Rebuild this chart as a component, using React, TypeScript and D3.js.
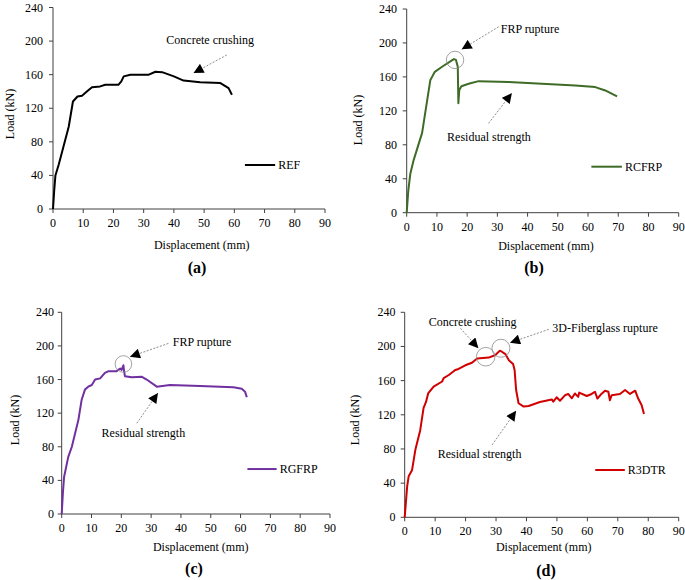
import React from 'react';
import * as d3 from 'd3';

const xTicks = [0, 10, 20, 30, 40, 50, 60, 70, 80, 90];
const yTicks = [0, 40, 80, 120, 160, 200, 240];

const refData: [number, number][] = [
  [0, 0], [0.4, 22], [0.8, 40], [1.9, 53], [3.3, 72], [5.2, 98], [6.6, 128], [8.1, 134], [9.6, 135],
  [11.2, 140], [12.9, 145], [15.6, 146], [17.3, 148], [21.7, 148], [22.6, 152], [23.4, 158], [25.6, 160],
  [31.7, 160], [33.9, 163.5], [36.1, 163], [40, 158], [43.2, 153], [48.7, 151], [55.4, 150], [58.1, 144], [59.2, 136],
];
const rcfrpData: [number, number][] = [
  [0, 0], [0.5, 25], [1.2, 46], [2.3, 62], [5.1, 94], [7.8, 156], [8.4, 160], [9.3, 166], [11.7, 172],
  [15.6, 181], [16.3, 180], [16.9, 172], [17.1, 129], [17.4, 144.5], [18.1, 149], [20.5, 152], [23.8, 155],
  [33.7, 154], [55.8, 150], [62.4, 148], [65.7, 144], [69.6, 137],
];
const rgfrpData: [number, number][] = [
  [0, 0], [0.4, 25], [0.8, 44], [2.2, 68], [3.4, 80], [5.6, 112], [6.7, 136], [7.8, 148], [8.9, 151.5],
  [10.1, 153.5], [11.2, 160], [12.9, 161.4], [14.5, 168], [15.7, 170], [18.4, 170], [19.6, 173], [20.1, 171.5],
  [20.7, 177], [20.9, 171], [21.2, 164], [23.5, 162.6], [26.8, 163.4], [28.5, 160], [31.9, 151.5], [36.3, 153.5],
  [46.4, 152.3], [57.6, 150.7], [60.4, 149], [61.5, 145.6], [62.1, 139],
];
const r3dtrData: [number, number][] = [
  [0, 0], [0.8, 36], [1.3, 48], [2.4, 55], [3.5, 79], [5.1, 102], [6.2, 128], [7.0, 135], [7.7, 145],
  [9.5, 153], [12.3, 159], [12.8, 163], [14.5, 166.6], [16.6, 172.5], [17.7, 173.7], [19.9, 178], [22.1, 181],
  [23.8, 186], [27.6, 187], [29.8, 190], [30.9, 194], [31.4, 195], [33.1, 191], [34.2, 184], [35.6, 179.5],
  [36.1, 172.5], [36.6, 149], [37.4, 133.5], [39.1, 129.6], [40.7, 130.3], [44.4, 135], [48.3, 138],
  [48.8, 135.4], [49.9, 140.5], [51, 136.5], [52.7, 143], [53.7, 144.4], [54.9, 139.3], [55.9, 145], [57, 141],
  [57.3, 146], [59.8, 142], [61.4, 144.4], [62.5, 147], [63.3, 139], [64.6, 144.4], [65.8, 148.2], [66.9, 147],
  [67.4, 137], [68, 143], [70.7, 144.4], [72.4, 149], [74, 144.4], [75.7, 148.2], [76.7, 139], [77.8, 131.5], [78.6, 121],
];

type Geom = {
  x0: number; x1: number; y0: number; y1: number;
  xl: [number, number]; tag: [number, number]; yl: [number, number];
  ytr: number;
};
type Arrow = { from: [number, number]; to: [number, number] };
type Label = { text: string; at: [number, number] };
type Circle = { at: [number, number]; r: number };

const FONT = "'Liberation Serif', 'Times New Roman', serif";

function Panel(props: {
  g: Geom; data: [number, number][]; color: string; name: string; legend: [number, number, number];
  labels: Label[]; arrows: Arrow[]; circles: Circle[]; tag: string;
}) {
  const { g, data, color, name, legend, labels, arrows, circles, tag } = props;
  const x = d3.scaleLinear().domain([0, 90]).range([g.x0, g.x1]);
  const y = d3.scaleLinear().domain([0, 240]).range([g.y0, g.y1]);
  const line = d3.line<[number, number]>().x(d => x(d[0])).y(d => y(d[1]));
  const axisColor = '#404040';
  return (
    <g>
      <line x1={g.x0} x2={g.x1} y1={g.y0} y2={g.y0} stroke={axisColor} strokeWidth={1} />
      <line x1={g.x0} x2={g.x0} y1={g.y0} y2={g.y1} stroke={axisColor} strokeWidth={1} />
      {xTicks.map(t => (
        <g key={'x' + t}>
          <line x1={x(t)} x2={x(t)} y1={g.y0} y2={g.y0 + 4} stroke={axisColor} />
          <text x={x(t)} y={g.y0 + 14} textAnchor="middle" dominantBaseline="central" fontSize={12} fontFamily={FONT}>{t}</text>
        </g>
      ))}
      {yTicks.map(t => (
        <g key={'y' + t}>
          <line x1={g.x0 - 4} x2={g.x0} y1={y(t)} y2={y(t)} stroke={axisColor} />
          <text x={g.ytr} y={y(t)} textAnchor="end" dominantBaseline="central" fontSize={12} fontFamily={FONT}>{t}</text>
        </g>
      ))}
      <text x={g.xl[0]} y={g.xl[1]} textAnchor="middle" dominantBaseline="central" fontSize={12} fontFamily={FONT}>Displacement (mm)</text>
      <text transform={`translate(${g.yl[0]},${g.yl[1]}) rotate(-90)`} textAnchor="middle" dominantBaseline="central" fontSize={12} fontFamily={FONT}>Load (kN)</text>
      <text x={g.tag[0]} y={g.tag[1]} textAnchor="middle" dominantBaseline="central" fontSize={16} fontWeight="bold" fontFamily={FONT}>{tag}</text>
      <path d={line(data) || ''} fill="none" stroke={color} strokeWidth={2} strokeLinejoin="round" />
      <line x1={x(legend[0])} x2={x(legend[1])} y1={y(legend[2])} y2={y(legend[2])} stroke={color} strokeWidth={2} />
      <text x={x(legend[1]) + 3} y={y(legend[2])} dominantBaseline="central" fontSize={12} fontFamily={FONT}>{name}</text>
      {circles.map((c, i) => (
        <circle key={'c' + i} cx={x(c.at[0])} cy={y(c.at[1])} r={c.r} fill="none" stroke="#8a8a8a" strokeWidth={0.8} />
      ))}
      {arrows.map((a, i) => (
        <line key={'a' + i} x1={x(a.from[0])} y1={y(a.from[1])} x2={x(a.to[0])} y2={y(a.to[1])}
          stroke="#707070" strokeWidth={0.8} strokeDasharray="2,1.5" markerEnd="url(#arrowhead)" />
      ))}
      {labels.map((l, i) => (
        <text key={'l' + i} x={x(l.at[0])} y={y(l.at[1])} textAnchor="middle" dominantBaseline="central" fontSize={12} fontFamily={FONT}>{l.text}</text>
      ))}
    </g>
  );
}

export default function App() {
  return (
    <svg width={685} height={580} style={{ position: 'absolute', left: 0, top: 0, background: '#fff' }}>
      <defs>
        <marker id="arrowhead" viewBox="0 0 10 10" refX={10} refY={5} markerWidth={11} markerHeight={10}
          markerUnits="userSpaceOnUse" orient="auto">
          <path d="M0,0 L10,5 L0,10 z" fill="#000" />
        </marker>
      </defs>
      <rect width={685} height={580} fill="#fff" />
      <Panel g={{ x0: 53, x1: 325, y0: 209, y1: 7.5, xl: [201.7, 245], tag: [197, 267], yl: [10, 114], ytr: 43 }}
        data={refData} color="#000000" name="REF" legend={[63.5, 73.5, 52.4]} tag="(a)"
        labels={[{ text: 'Concrete crushing', at: [52, 201] }]}
        arrows={[{ from: [57.5, 183.4], to: [46.5, 162] }]}
        circles={[]} />
      <Panel g={{ x0: 406.7, x1: 678.7, y0: 212.7, y1: 9, xl: [546, 246], tag: [534, 267], yl: [357.5, 120], ytr: 397 }}
        data={rcfrpData} color="#3e6b26" name="RCFRP" legend={[61.1, 71.2, 54.2]} tag="(b)"
        labels={[{ text: 'FRP rupture', at: [40.8, 216.2] }, { text: 'Residual strength', at: [27.2, 89] }]}
        arrows={[{ from: [30.4, 219], to: [18.2, 192.5] }, { from: [27.1, 105.3], to: [34.8, 141] }]}
        circles={[{ at: [16, 180], r: 8.7 }]} />
      <Panel g={{ x0: 61.7, x1: 330, y0: 514, y1: 312.3, xl: [200.7, 547.3], tag: [194, 568], yl: [15, 420], ytr: 54 }}
        data={rgfrpData} color="#7030a0" name="RGFRP" legend={[62.3, 72.1, 53.5]} tag="(c)"
        labels={[{ text: 'FRP rupture', at: [47.1, 205] }, { text: 'Residual strength', at: [27.4, 96.7] }]}
        arrows={[{ from: [35.8, 203], to: [22.9, 187] }, { from: [25.2, 108], to: [32.3, 144] }]}
        circles={[{ at: [20.7, 178.5], r: 8.3 }]} />
      <Panel g={{ x0: 404.7, x1: 678.7, y0: 517.3, y1: 312.3, xl: [543.7, 547.3], tag: [546, 570], yl: [355.3, 420], ytr: 395.5 }}
        data={r3dtrData} color="#d00000" name="R3DTR" legend={[62.6, 72.3, 55.4]} tag="(d)"
        labels={[
          { text: 'Concrete crushing', at: [22.3, 228.3] },
          { text: '3D-Fiberglass rupture', at: [65.8, 221.3] },
          { text: 'Residual strength', at: [24.6, 74] },
        ]}
        arrows={[
          { from: [18.3, 221.3], to: [24.2, 197.9] },
          { from: [47.3, 220], to: [34.6, 204.4] },
          { from: [28.7, 84.7], to: [36.6, 124.8] },
        ]}
        circles={[{ at: [26.6, 188], r: 9.3 }, { at: [31.6, 197.9], r: 9 }]} />
    </svg>
  );
}
